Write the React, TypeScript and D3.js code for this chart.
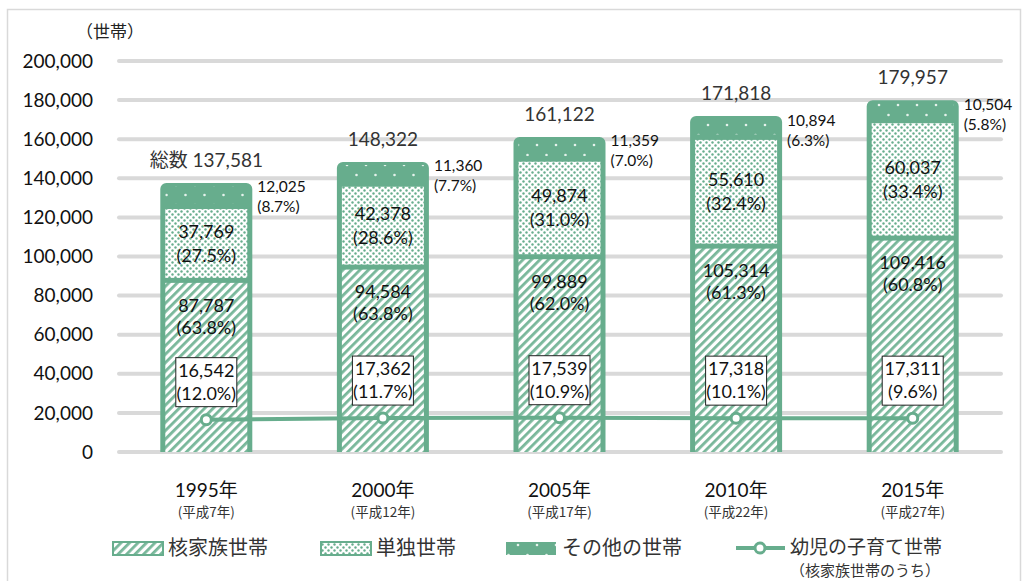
import React from 'react'
import * as d3 from 'd3'

// 世帯数の推移（積み上げ棒 + 幼児の子育て世帯の折れ線）
const years = ['1995年', '2000年', '2005年', '2010年', '2015年']
const eras = ['(平成7年)', '(平成12年)', '(平成17年)', '(平成22年)', '(平成27年)']
const nuclear = [87787, 94584, 99889, 105314, 109416]
const single = [37769, 42378, 49874, 55610, 60037]
const other = [12025, 11360, 11359, 10894, 10504]
const totals = [137581, 148322, 161122, 171818, 179957]
const children = [16542, 17362, 17539, 17318, 17311]
const nuclearPct = ['63.8%', '63.8%', '62.0%', '61.3%', '60.8%']
const singlePct = ['27.5%', '28.6%', '31.0%', '32.4%', '33.4%']
const otherPct = ['8.7%', '7.7%', '7.0%', '6.3%', '5.8%']
const childrenPct = ['12.0%', '11.7%', '10.9%', '10.1%', '9.6%']
const yTicks = [0, 20000, 40000, 60000, 80000, 100000, 120000, 140000, 160000, 180000, 200000]

const W = 1022
const H = 581
const GREEN = '#67ad8d'
const NUM_FONT = 'Lato, "Noto Sans CJK JP", sans-serif'
const JP_FONT = '"Noto Sans CJK JP", sans-serif'

export default function App() {
  const y = d3.scaleLinear().domain([0, 200000]).range([452, 61])
  const x = d3.scalePoint<string>().domain(years).range([118, 1001]).padding(0.5)
  const fmt = d3.format(',')
  const barW = 92
  const half = barW / 2
  const b = 5 // green border

  const line = d3
    .line<number>()
    .x((_, i) => x(years[i]) as number)
    .y((d) => y(d))

  // rounded-top bar outline
  const barPath = (x0: number, top: number, bottom: number, r: number) => {
    const p = d3.path()
    p.moveTo(x0, bottom)
    p.lineTo(x0, top + r)
    p.arcTo(x0, top, x0 + r, top, r)
    p.lineTo(x0 + barW - r, top)
    p.arcTo(x0 + barW, top, x0 + barW, top + r, r)
    p.lineTo(x0 + barW, bottom)
    p.closePath()
    return p.toString()
  }

  return (
    <svg width={W} height={H} style={{ position: 'absolute', left: 0, top: 0, background: '#fff' }}>
      <defs>
        <pattern id="stripe" width="6" height="6" patternUnits="userSpaceOnUse" patternTransform="rotate(45)">
          <rect width="6" height="6" fill="#ffffff" />
          <rect width="2.8" height="6" fill="#78b79a" />
        </pattern>
        <pattern id="dots" width="6" height="6" patternUnits="userSpaceOnUse">
          <rect width="6" height="6" fill="#ffffff" />
          <circle cx="1.5" cy="1.5" r="1.2" fill={GREEN} />
          <circle cx="4.5" cy="4.5" r="1.2" fill={GREEN} />
        </pattern>
        <pattern id="sparse" width="19" height="20" patternUnits="userSpaceOnUse">
          <rect width="19" height="20" fill={GREEN} />
          <circle cx="5" cy="5" r="1.3" fill="#e6f2ec" />
          <circle cx="14.5" cy="15" r="1.3" fill="#e6f2ec" />
        </pattern>
      </defs>

      <rect x={7.5} y={9.5} width={1013} height={575} fill="none" stroke="#d9d9d9" strokeWidth={1.5} />

      {/* grid */}
      {yTicks.map((t) => (
        <g key={t}>
          <line x1={119} x2={1001} y1={y(t)} y2={y(t)} stroke="#d9d9d9" strokeWidth={4} strokeLinecap="round" />
          <text x={93} y={y(t)} dy="0.35em" textAnchor="end" fontSize={19} fontFamily={NUM_FONT} fill="#111">
            {fmt(t)}
          </text>
        </g>
      ))}
      <text x={110} y={32} dy="0.35em" textAnchor="middle" fontSize={17} fontFamily={JP_FONT} fill="#222">
        （世帯）
      </text>

      {/* bars */}
      {years.map((yr, i) => {
        const cx = x(yr) as number
        const x0 = cx - half
        const topAll = y(totals[i])
        const nTop = y(nuclear[i])
        const sTop = y(nuclear[i] + single[i])
        return (
          <g key={yr}>
            <path d={barPath(x0, topAll, y(0), 6)} fill={GREEN} />
            <rect x={x0 + b} y={topAll + 3} width={barW - 2 * b} height={sTop - topAll - 6} fill="url(#sparse)" />
            <rect x={x0 + b} y={sTop + 2.5} width={barW - 2 * b} height={nTop - sTop - 5} fill="url(#dots)" />
            <rect x={x0 + b} y={nTop + 2.5} width={barW - 2 * b} height={y(0) - nTop - 2.5} fill="url(#stripe)" />
          </g>
        )
      })}

      {/* children line */}
      <path d={line(children) || ''} fill="none" stroke={GREEN} strokeWidth={4} />
      {children.map((v, i) => (
        <circle key={i} cx={x(years[i]) as number} cy={y(v)} r={5} fill="#fff" stroke={GREEN} strokeWidth={3} />
      ))}

      {/* labels */}
      {years.map((yr, i) => {
        const cx = x(yr) as number
        const topAll = y(totals[i])
        const nTop = y(nuclear[i])
        const sTop = y(nuclear[i] + single[i])
        const sMid = (nTop + sTop) / 2
        const boxY = y(children[i]) - 38
        const ts = { fontFamily: NUM_FONT, fill: '#111', textAnchor: 'middle' as const }
        return (
          <g key={yr}>
            <text x={cx} y={topAll - 23} dy="0.35em" fontSize={19} {...ts} fill="#333">
              {i === 0 ? `総数 ${fmt(totals[i])}` : fmt(totals[i])}
            </text>
            <text x={cx + half + 5} y={topAll + 4} dy="0.35em" fontSize={15.5} fontFamily={NUM_FONT} fill="#111">
              {fmt(other[i])}
            </text>
            <text x={cx + half + 5} y={topAll + 24} dy="0.35em" fontSize={15.5} fontFamily={NUM_FONT} fill="#111">
              ({otherPct[i]})
            </text>
            <text x={cx} y={sMid - 12} dy="0.35em" fontSize={18} {...ts}>
              {fmt(single[i])}
            </text>
            <text x={cx} y={sMid + 12} dy="0.35em" fontSize={18} {...ts}>
              ({singlePct[i]})
            </text>
            <text x={cx} y={nTop + 25} dy="0.35em" fontSize={18} {...ts}>
              {fmt(nuclear[i])}
            </text>
            <text x={cx} y={nTop + 47} dy="0.35em" fontSize={18} {...ts}>
              ({nuclearPct[i]})
            </text>
            <rect x={cx - 30.5} y={boxY - 24} width={61} height={49} fill="#fff" stroke="#222" strokeWidth={1} />
            <text x={cx} y={boxY - 11} dy="0.35em" fontSize={18} {...ts}>
              {fmt(children[i])}
            </text>
            <text x={cx} y={boxY + 12} dy="0.35em" fontSize={18} {...ts}>
              ({childrenPct[i]})
            </text>
            <text x={cx} y={490} dy="0.35em" fontSize={19} {...ts}>
              {yr}
            </text>
            <text x={cx} y={512} dy="0.35em" fontSize={13.5} {...ts} fontFamily={JP_FONT} fill="#333">
              {eras[i]}
            </text>
          </g>
        )
      })}

      {/* legend */}
      <g fontFamily={JP_FONT} fontSize={20} fill="#333">
        <rect x={113} y={542} width={50} height={13} fill="url(#stripe)" stroke={GREEN} strokeWidth={2} />
        <text x={168} y={548} dy="0.35em">核家族世帯</text>
        <rect x={321} y={542} width={50} height={13} fill="url(#dots)" stroke={GREEN} strokeWidth={2} />
        <text x={376} y={548} dy="0.35em">単独世帯</text>
        <rect x={506} y={542} width={50} height={13} fill="url(#sparse)" />
        <text x={562} y={548} dy="0.35em">その他の世帯</text>
        <line x1={736} x2={785} y1={548} y2={548} stroke={GREEN} strokeWidth={4} />
        <circle cx={760} cy={548} r={5} fill="#fff" stroke={GREEN} strokeWidth={3} />
        <text x={790} y={547} dy="0.35em" fontSize={19}>幼児の子育て世帯</text>
        <text x={790} y={571} dy="0.35em" fontSize={15}>（核家族世帯のうち）</text>
      </g>
    </svg>
  )
}
